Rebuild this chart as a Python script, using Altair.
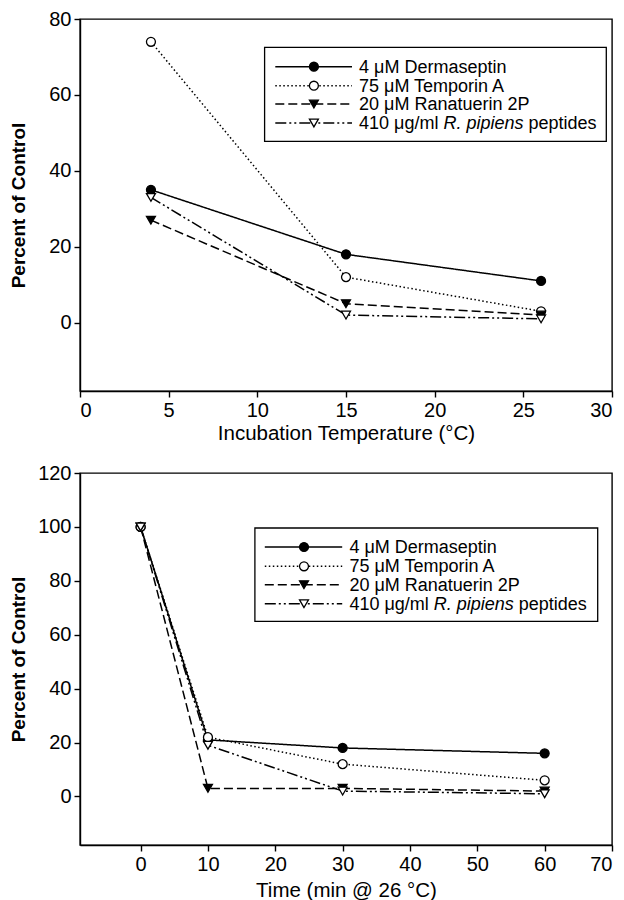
import altair as alt
import pandas as pd

FONT = "Liberation Sans"

series = ["4 μM Dermaseptin", "75 μM Temporin A", "20 μM Ranatuerin 2P",
          "410 μg/ml R. pipiens peptides"]

# Top panel: incubation temperature
temp_c = [4, 15, 26]
derm_temp = [35, 18, 11]
tempA_temp = [74, 12, 3]
rana_temp = [27, 5, 2]
rpip_temp = [33, 2, 1]

# Bottom panel: time at 26 °C
time_min = [0, 10, 30, 60]
derm_time = [100, 21, 18, 16]
tempA_time = [100, 22, 12, 6]
rana_time = [100, 3, 3, 2]
rpip_time = [100, 19, 2, 1]

top_xticks = [0, 5, 10, 15, 20, 25, 30]
top_yticks = [0, 20, 40, 60, 80]
bot_xticks = [0, 10, 20, 30, 40, 50, 60, 70]
bot_yticks = [0, 20, 40, 60, 80, 100, 120]

dashes = [[1, 0], [1.5, 2.5], [9, 4], [11, 3, 2, 3, 2, 3]]
shapes = ["circle", "circle", "triangle-down", "triangle-down"]
fills = ["black", "white", "black", "white"]

W, H = 532, 372


def long_df(xs, ys_list):
    rows = []
    for s, ys in zip(series, ys_list):
        for x, y in zip(xs, ys):
            rows.append({"series": s, "x": x, "y": y})
    return pd.DataFrame(rows)


def panel(df, xdom, ydom, xticks, yticks, xtitle, ytitle_pad, xtitle_pad, legend_px):
    axis_x = alt.Axis(values=xticks, title=xtitle, titlePadding=xtitle_pad,
                      titleFontWeight="normal", titleFontSize=20.5, labelPadding=3)
    axis_y = alt.Axis(values=yticks, title="Percent of Control", titlePadding=ytitle_pad,
                      titleFontWeight="bold", titleFontSize=19, labelPadding=3)
    sx = alt.Scale(domain=xdom, nice=False, zero=False)
    sy = alt.Scale(domain=ydom, nice=False, zero=False)

    def X(f):
        return alt.X(f, type="quantitative", scale=sx, axis=axis_x)

    def Y(f):
        return alt.Y(f, type="quantitative", scale=sy, axis=axis_y)

    dash_enc = alt.StrokeDash("series:N", scale=alt.Scale(domain=series, range=dashes), legend=None)
    shape_enc = alt.Shape("series:N", scale=alt.Scale(domain=series, range=shapes), legend=None)
    fill_enc = alt.Fill("series:N", scale=alt.Scale(domain=series, range=fills), legend=None)

    base = alt.Chart(df)
    lines = base.mark_line(color="black", strokeWidth=1.5).encode(
        x=X("x"), y=Y("y"), strokeDash=dash_enc, detail="series:N")
    pts = base.mark_point(filled=True, stroke="black", strokeWidth=1.3, size=80, opacity=1).encode(
        x=X("x"), y=Y("y"), shape=shape_enc, fill=fill_enc)

    # legend (layout in pixels relative to plot origin, converted to data units)
    def dx(px):
        return xdom[0] + px / W * (xdom[1] - xdom[0])

    def dy(py):
        return ydom[1] - py / H * (ydom[1] - ydom[0])

    bx0, bx1, by0, by1, rows_y, lx0, lx1, mx, tx = legend_px
    box = alt.Chart(pd.DataFrame([{"a": dx(bx0), "b": dx(bx1), "c": dy(by0), "d": dy(by1)}])).mark_rect(
        fill="white", stroke="black", strokeWidth=1.3).encode(
        x=X("a"), x2="b", y=Y("c"), y2="d")
    leg = pd.DataFrame({"series": series, "ly": [dy(v) for v in rows_y],
                        "lx0": dx(lx0), "lx1": dx(lx1), "mx": dx(mx)})
    leg_lines = alt.Chart(leg).mark_rule(color="black", strokeWidth=1.5).encode(
        x=X("lx0"), x2="lx1", y=Y("ly"), strokeDash=dash_enc)
    leg_pts = alt.Chart(leg).mark_point(filled=True, stroke="black", strokeWidth=1.3, size=80, opacity=1).encode(
        x=X("mx"), y=Y("ly"), shape=shape_enc, fill=fill_enc)
    # legend texts
    fs = 18
    w_a = 84.4
    w_b = 80.0
    parts = [
        {"t": "4 μM Dermaseptin", "px": tx, "py": rows_y[0], "st": "normal"},
        {"t": "75 μM Temporin A", "px": tx, "py": rows_y[1], "st": "normal"},
        {"t": "20 μM Ranatuerin 2P", "px": tx, "py": rows_y[2], "st": "normal"},
        {"t": "410 μg/ml", "px": tx, "py": rows_y[3], "st": "normal"},
        {"t": "R. pipiens", "px": tx + w_a, "py": rows_y[3], "st": "italic"},
        {"t": "peptides", "px": tx + w_a + w_b + 5, "py": rows_y[3], "st": "normal"},
    ]
    tdf = pd.DataFrame([{"t": p["t"], "tx": dx(p["px"]), "ty": dy(p["py"]), "st": p["st"]} for p in parts])
    txt_n = alt.Chart(tdf[tdf.st == "normal"]).mark_text(
        align="left", baseline="middle", font=FONT, fontSize=fs, color="black", dy=1).encode(
        x=X("tx"), y=Y("ty"), text="t:N")
    txt_i = alt.Chart(tdf[tdf.st == "italic"]).mark_text(
        align="left", baseline="middle", font=FONT, fontSize=fs, fontStyle="italic", color="black", dy=1).encode(
        x=X("tx"), y=Y("ty"), text="t:N")

    return alt.layer(lines, pts, box, leg_lines, leg_pts, txt_n, txt_i).properties(width=W, height=H)


top_df = long_df(temp_c, [derm_temp, tempA_temp, rana_temp, rpip_temp])
bot_df = long_df(time_min, [derm_time, tempA_time, rana_time, rpip_time])

top = panel(top_df, [0, 30], [-18, 80], top_xticks, top_yticks,
            "Incubation Temperature (°C)", 20, 3,
            (184.6, 526.3, 28.3, 122.3, [47.7, 66.7, 85.0, 104.0], 195.3, 272.0, 233.9, 279.0))
bot = panel(bot_df, [-9, 70], [-18, 120], bot_xticks, bot_yticks,
            "Time (min @ 26 °C)", 9, 6,
            (174.9, 517.7, 55.0, 148.3, [74.0, 93.3, 111.7, 130.7], 184.8, 262.2, 224.0, 269.4))

chart = alt.vconcat(top, bot, spacing=82, bounds="flush").properties(
    padding={"left": 0, "top": 0, "right": 0, "bottom": 0}
).configure_view(
    stroke="black", strokeWidth=1.4
).configure_axis(
    grid=False, domainColor="black", domainWidth=1.4, tickColor="black", tickWidth=1.4,
    tickSize=6, labelFont=FONT, labelFontSize=20, labelColor="black",
    titleFont=FONT, titleColor="black"
)

chart.save("out.html", embed_options={"renderer": "svg", "actions": False})
